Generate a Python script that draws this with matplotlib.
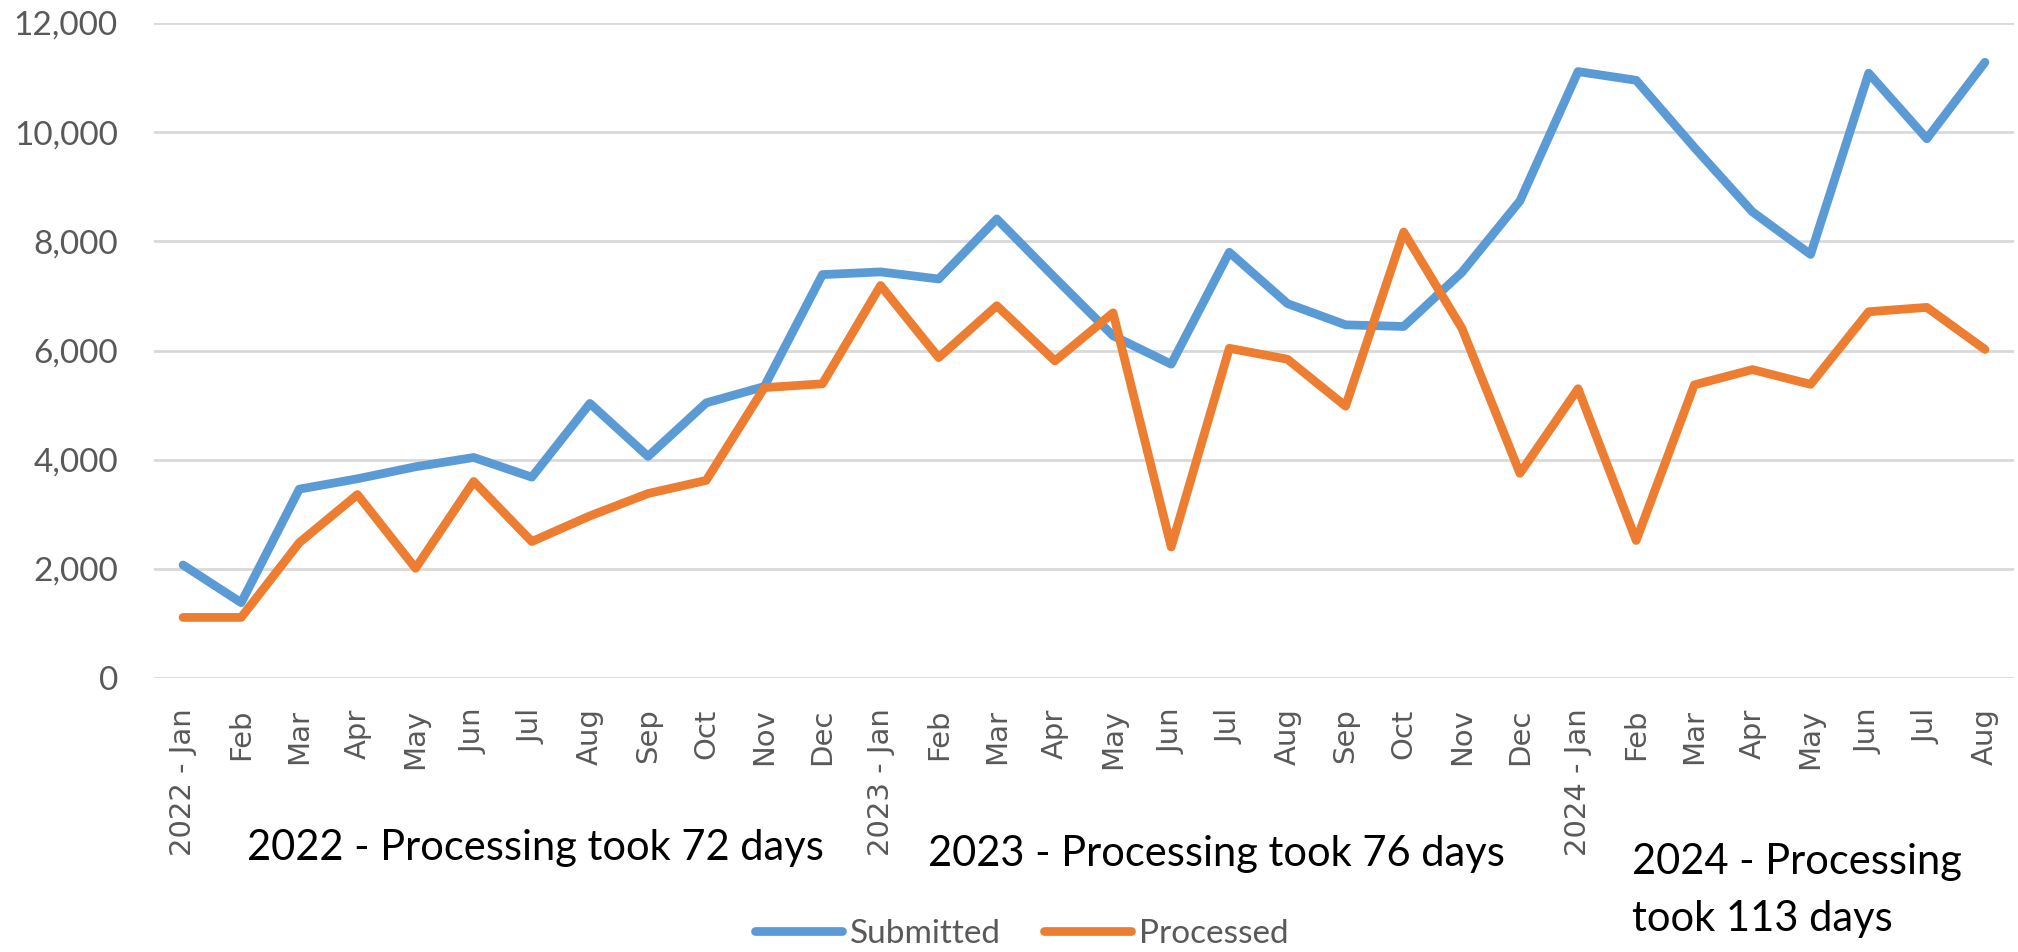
import matplotlib
matplotlib.use("Agg")
import matplotlib.pyplot as plt
from matplotlib.ticker import FuncFormatter

# Monthly application counts
months = ['2022 - Jan', 'Feb', 'Mar', 'Apr', 'May', 'Jun', 'Jul', 'Aug', 'Sep', 'Oct', 'Nov', 'Dec',
          '2023 - Jan', 'Feb', 'Mar', 'Apr', 'May', 'Jun', 'Jul', 'Aug', 'Sep', 'Oct', 'Nov', 'Dec',
          '2024 - Jan', 'Feb', 'Mar', 'Apr', 'May', 'Jun', 'Jul', 'Aug']
submitted = [2070, 1380, 3460, 3650, 3870, 4040, 3680, 5030, 4060, 5040, 5340, 7390,
             7440, 7310, 8410, 7330, 6270, 5750, 7800, 6860, 6470, 6440, 7430, 8740,
             11110, 10950, 9720, 8540, 7760, 11080, 9880, 11280]
processed = [1110, 1110, 2480, 3360, 2010, 3600, 2500, 2970, 3380, 3620, 5320, 5390,
             7190, 5870, 6820, 5810, 6690, 2400, 6040, 5840, 4980, 8170, 6410, 3750,
             5300, 2520, 5370, 5650, 5380, 6710, 6790, 6020]
notes = ['2022 - Processing took 72 days',
         '2023 - Processing took 76 days',
         '2024 - Processing\ntook 113 days']

W, H = 2018, 952
fig = plt.figure(figsize=(W / 100, H / 100), dpi=100)
ax = fig.add_axes([154 / W, 1 - 678 / H, (2014 - 154) / W, (678 - 23) / H])

x = list(range(len(months)))
ax.plot(x, submitted, color='#5B9BD5', lw=6.3, solid_capstyle='round',
        solid_joinstyle='round', label='Submitted', zorder=3)
ax.plot(x, processed, color='#ED7D31', lw=6.3, solid_capstyle='round',
        solid_joinstyle='round', label='Processed', zorder=3)

ax.set_xlim(-0.5, len(months) - 0.5)
ax.set_ylim(0, 12000)
ax.set_yticks(range(0, 12001, 2000))
ax.yaxis.set_major_formatter(FuncFormatter(lambda v, p: f'{int(v):,}'))
ax.set_xticks(x)
ax.set_xticklabels(months, rotation=90, va='top', ha='center',
                   family='DejaVu Sans', fontsize=21, color='#595959')
for lab in ax.get_yticklabels():
    lab.set_family('Lato')
    lab.set_fontsize(24)
    lab.set_color('#595959')
ax.tick_params(axis='both', length=0)
ax.tick_params(axis='x', pad=22)
ax.tick_params(axis='y', pad=26)
ax.grid(axis='y', color='#D9D9D9', lw=2)
ax.set_axisbelow(True)
for s in ax.spines.values():
    s.set_visible(False)

# Year notes under the axis (baseline of the last line)
fig.text(247 / W, 1 - 860 / H, notes[0], family='Lato', fontsize=30, va='baseline')
fig.text(928 / W, 1 - 866 / H, notes[1], family='Lato', fontsize=30, va='baseline')
fig.text(1632 / W, 1 - 931 / H, notes[2], family='Lato', fontsize=30, va='baseline',
         linespacing=1.6)

leg = fig.legend(loc='center', bbox_to_anchor=(1022 / W, 1 - 934 / H), ncol=2,
                 frameon=False, handlelength=2.6, handletextpad=0.25, columnspacing=1.3,
                 prop={'family': 'Lato', 'size': 24})
for t in leg.get_texts():
    t.set_color('#595959')

fig.savefig('out.png', dpi=100, facecolor='white')
